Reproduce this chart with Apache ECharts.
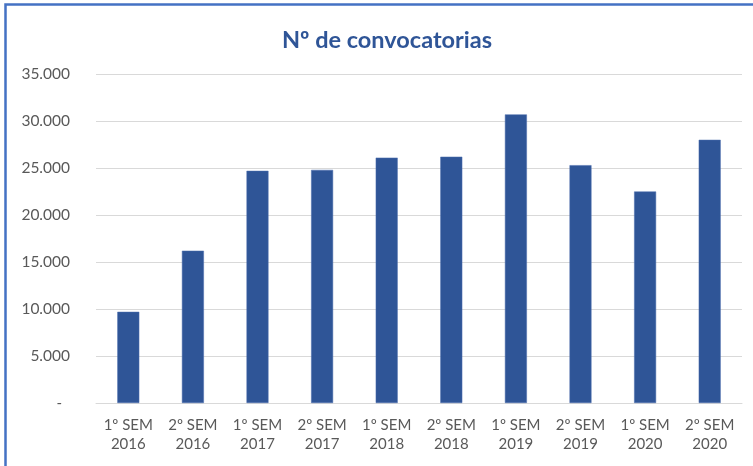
<!DOCTYPE html>
<html>
<head>
<meta charset="utf-8">
<script src="https://cdn.jsdelivr.net/npm/echarts@6/dist/echarts.min.js"></script>
<style>
html,body{margin:0;padding:0;background:#fff;}
#chart{width:753px;height:466px;}
</style>
</head>
<body>
<div id="chart"></div>
<script>
const titleText = 'Nº de convocatorias';
const categories = ['1º SEM\n2016','2º SEM\n2016','1º SEM\n2017','2º SEM\n2017','1º SEM\n2018','2º SEM\n2018','1º SEM\n2019','2º SEM\n2019','1º SEM\n2020','2º SEM\n2020'];
const values = [9700, 16200, 24700, 24800, 26100, 26200, 30700, 25300, 22500, 28000];
const yMin = 0, yMax = 35000, yInterval = 5000;

const chart = echarts.init(document.getElementById('chart'), null, {renderer:'canvas'});
const fontFamily = 'Lato, "Open Sans", sans-serif';
chart.setOption({
  animation: false,
  backgroundColor: '#ffffff',
  title: {
    text: titleText,
    left: 382, top: 23, textAlign: 'center',
    textStyle: {color: '#2F5597', fontSize: 23.5, fontWeight: 'bold', fontFamily: fontFamily}
  },
  graphic: [{
    type: 'rect', silent: true, z: 100,
    shape: {x: 5.5, y: 4.5, width: 900, height: 700},
    style: {fill: 'none', stroke: '#4472C4', lineWidth: 2.5}
  }],
  grid: {left: 96, right: 11, top: 74, bottom: 63, containLabel: false},
  xAxis: {
    type: 'category',
    data: categories,
    axisLine: {show: true, lineStyle: {color: '#D9D9D9', width: 1}},
    axisTick: {show: false},
    axisLabel: {
      color: '#595959', fontSize: 15, fontFamily: fontFamily,
      lineHeight: 19, margin: 13, interval: 0
    }
  },
  yAxis: {
    type: 'value',
    min: yMin, max: yMax, interval: yInterval,
    axisLine: {show: false},
    axisTick: {show: false},
    splitLine: {lineStyle: {color: '#D9D9D9', width: 1}},
    axisLabel: {
      color: '#595959', fontSize: 15.5, fontFamily: fontFamily, margin: 26,
      formatter: function (v) {
        if (v === 0) return '{z|-}';
        return v.toString().replace(/\B(?=(\d{3})+(?!\d))/g, '.');
      },
      rich: {z: {color: '#595959', fontSize: 15, fontFamily: fontFamily, padding: [0, 8, 0, 0]}}
    }
  },
  series: [{
    type: 'bar',
    data: values,
    barWidth: '34%',
    itemStyle: {color: '#2F5597', borderColor: '#4A6DAD', borderWidth: 0.5}
  }]
});
</script>
</body>
</html>
